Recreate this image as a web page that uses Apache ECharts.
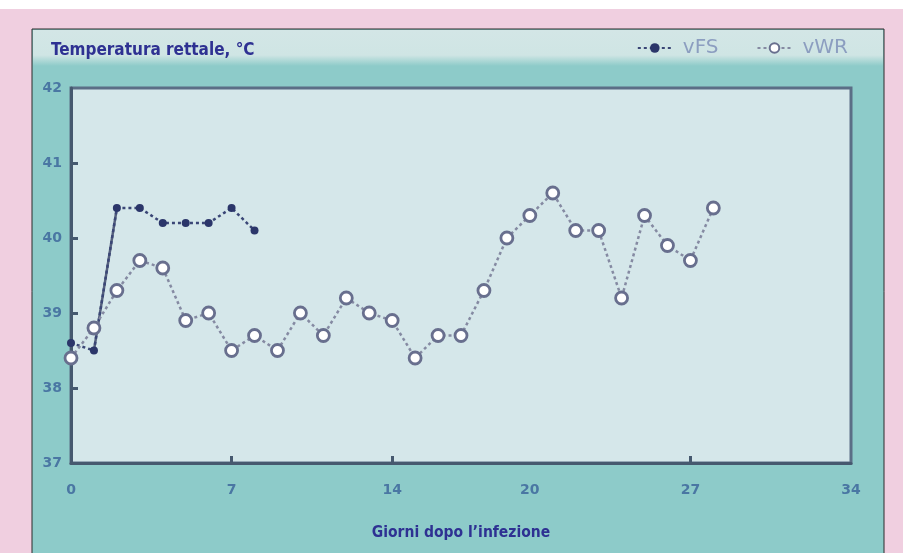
<!DOCTYPE html>
<html>
<head>
<meta charset="utf-8">
<script src="https://cdn.jsdelivr.net/npm/echarts@6/dist/echarts.min.js"></script>
<style>
html,body{margin:0;padding:0;background:#ffffff;}
#chart{width:903px;height:553px;}
</style>
</head>
<body>
<div id="chart"></div>
<script>
// ---- Data ----
const titleText = 'Temperatura rettale, °C';
const xAxisTitle = 'Giorni dopo l\u2019infezione';
const seriesNames = ['vFS', 'vWR'];

const vfsDays = [0, 1, 2, 3, 4, 5, 6, 7, 8];
const vfsTemp = [38.6, 38.5, 40.4, 40.4, 40.2, 40.2, 40.2, 40.4, 40.1];

const vwrDays = [0, 1, 2, 3, 4, 5, 6, 7, 8, 9, 10, 11, 12, 13, 14, 15, 16, 17, 18, 19, 20, 21, 22, 23, 24, 25, 26, 27, 28];
const vwrTemp = [38.4, 38.8, 39.3, 39.7, 39.6, 38.9, 39.0, 38.5, 38.7, 38.5, 39.0, 38.7, 39.2, 39.0, 38.9, 38.4, 38.7, 38.7, 39.3, 40.0, 40.3, 40.6, 40.1, 40.1, 39.2, 40.3, 39.9, 39.7, 40.4];

const xTickLabels = [0, 7, 14, 20, 27, 34];
const xTickMarks = [7, 14, 27];
const yTickLabels = [37, 38, 39, 40, 41, 42];
const yTickMarks = [38, 39, 40, 41];

// segment of vFS drawn with a solid line (day 1 -> day 2)
const vfsSolidIdx = [1, 2];

const pair = (xs, ys) => xs.map((x, i) => [x, ys[i]]);
const vfsData = pair(vfsDays, vfsTemp);
const vwrData = pair(vwrDays, vwrTemp);
const vfsSolid = vfsSolidIdx.map(i => vfsData[i]);

const chart = echarts.init(document.getElementById('chart'), null, {renderer: 'canvas'});

const labelFont = {color: '#4a77a3', fontFamily: 'DejaVu Sans', fontWeight: 900, fontSize: 14};
const condFont = 'Liberation Sans Narrow, DejaVu Sans Condensed, sans-serif';

chart.setOption({
  animation: false,
  backgroundColor: '#ffffff',
  graphic: [
    {type: 'rect', z: -100, silent: true, shape: {x: 0, y: 9, width: 903, height: 544}, style: {fill: '#f0cfe0'}},
    {type: 'rect', z: -99, silent: true, shape: {x: 32, y: 29, width: 852, height: 530}, style: {fill: '#8dcbc9', stroke: '#2a2a2a', lineWidth: 1}},
    {type: 'rect', z: -98, silent: true, shape: {x: 33, y: 30, width: 850, height: 36},
      style: {fill: new echarts.graphic.LinearGradient(0, 0, 0, 1, [
        {offset: 0, color: '#d3e6e6'}, {offset: 0.7, color: '#cfe5e4'}, {offset: 1, color: '#8dcbc9'}])}}
  ],
  title: {
    text: titleText, left: 46, top: 37,
    textStyle: {color: '#2e3192', fontFamily: condFont, fontWeight: 'bold', fontSize: 17}
  },
  legend: {
    data: seriesNames, right: 50, top: 33, itemWidth: 34, itemHeight: 12, itemGap: 38,
    textStyle: {color: '#8c9ec0', fontFamily: 'DejaVu Sans', fontSize: 20, padding: [0, 0, 0, 6]}
  },
  grid: {
    left: 71, top: 88, right: 52, bottom: 90,
    show: true, backgroundColor: '#d5e7ea', borderColor: '#5b6e86', borderWidth: 3
  },
  xAxis: {
    type: 'value', min: 0, max: 34,
    name: xAxisTitle, nameLocation: 'middle', nameGap: 62,
    nameTextStyle: {color: '#2e3192', fontFamily: condFont, fontWeight: 'bold', fontSize: 15.5},
    axisLine: {show: true, lineStyle: {color: '#46596f', width: 3}},
    axisTick: {show: true, inside: true, length: 7, customValues: xTickMarks, lineStyle: {color: '#46596f', width: 3}},
    axisLabel: Object.assign({customValues: xTickLabels, margin: 20}, labelFont),
    splitLine: {show: false}
  },
  yAxis: {
    type: 'value', min: 37, max: 42, interval: 1,
    axisLine: {show: true, lineStyle: {color: '#46596f', width: 3}},
    axisTick: {show: true, inside: true, length: 7, customValues: yTickMarks, lineStyle: {color: '#46596f', width: 3}},
    axisLabel: Object.assign({customValues: yTickLabels, margin: 9}, labelFont),
    splitLine: {show: false}
  },
  series: [
    {
      name: 'vFS', type: 'line', data: vfsData, z: 4,
      symbol: 'circle', symbolSize: 8, showSymbol: true,
      itemStyle: {color: '#2b366a', borderColor: '#2b366a', borderWidth: 0},
      lineStyle: {color: '#3a4676', width: 2.5, type: [3, 3]}
    },
    {
      name: 'vFS-solid', type: 'line', data: vfsSolid, z: 3,
      symbol: 'none',
      lineStyle: {color: '#55607e', width: 2.5, type: 'solid'}
    },
    {
      name: 'vWR', type: 'line', data: vwrData, z: 5,
      symbol: 'circle', symbolSize: 12, showSymbol: true,
      itemStyle: {color: '#ffffff', borderColor: '#686f8e', borderWidth: 2.8},
      lineStyle: {color: '#858aa2', width: 2.5, type: [3, 3]}
    }
  ]
});
</script>
</body>
</html>
